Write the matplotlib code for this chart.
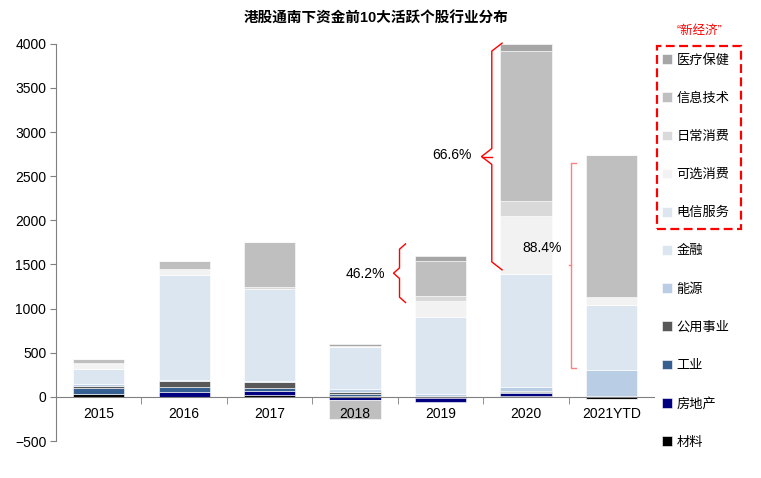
import matplotlib.pyplot as plt
import numpy as np
from matplotlib.patches import Rectangle

plt.rcParams['font.family'] = ['Liberation Sans', 'Noto Sans CJK SC', 'DejaVu Sans']

years = ['2015', '2016', '2017', '2018', '2019', '2020', '2021YTD']

# sector values, stacking order bottom -> top
sectors = ['材料', '房地产', '工业', '公用事业', '能源', '金融',
           '电信服务', '可选消费', '日常消费', '信息技术', '医疗保健']
materials = [30, 0, 20, 15, -10, 10, -20]
real_estate = [5, 50, 45, -30, -50, 35, -5]
industrials = [70, 57, 35, 20, 10, 12, 10]
utilities = [15, 68, 65, 20, 0, 5, 0]
energy = [25, 15, 20, 30, 20, 45, 295]
financials = [170, 1192, 1035, 476, 880, 1290, 733]
telecom = [0, 0, 0, 0, 0, 0, 0]
cons_disc = [60, 65, 0, 10, 181, 657, 97]
cons_staples = [12, 0, 23, 0, 53, 170, 0]
info_tech = [40, 94, 506, -220, 397, 1696, 1602]
health = [0, 0, 0, 30, 57, 80, 0]

series = [materials, real_estate, industrials, utilities, energy, financials,
          telecom, cons_disc, cons_staples, info_tech, health]
colors = ['#000000', '#000080', '#376092', '#595959', '#b9cde5', '#dce6f1',
          '#dde5ef', '#f2f2f2', '#d9d9d9', '#bfbfbf', '#a6a6a6']

# share labels
pct_labels = ['46.2%', '66.6%', '88.4%']

fig = plt.figure(figsize=(7.61, 4.78), dpi=100)
ax = fig.add_axes([0.0736, 0.0774, 0.786, 0.831])

x = np.arange(len(years))
pos_bottom = np.zeros(len(years))
neg_bottom = np.zeros(len(years))
handles = []
for name, vals, c in zip(sectors, series, colors):
    v = np.array(vals, dtype=float)
    bottom = np.where(v >= 0, pos_bottom, neg_bottom)
    b = ax.bar(x, v, 0.6, bottom=bottom, color=c, edgecolor='white',
               linewidth=0.4, label=name, zorder=1)
    handles.append(b)
    pos_bottom += np.where(v > 0, v, 0)
    neg_bottom += np.where(v < 0, v, 0)

ax.set_xlim(-0.5, 6.5)
ax.set_ylim(-500, 4000)
ax.set_yticks(np.arange(-500, 4001, 500))
ax.set_xticks(x)
ax.set_xticklabels(years)
ax.set_xticks(np.arange(0.5, 6.5, 1), minor=True)
ax.tick_params(axis='x', which='major', length=0, pad=7, labelsize=10)
ax.tick_params(axis='x', which='minor', length=5, direction='out', color='#808080')
ax.tick_params(axis='y', length=4, color='#808080', labelsize=10, pad=3)

ax.spines['top'].set_visible(False)
ax.spines['right'].set_visible(False)
ax.spines['bottom'].set_position(('data', 0))
ax.spines['bottom'].set_color('#808080')
ax.spines['left'].set_color('#808080')

fig.text(0.494, 0.962, '港股通南下资金前10大活跃个股行业分布', ha='center', va='center',
         fontsize=10.5, fontweight='bold')


def brace(xs, y0, y1, w, d, col):
    ym = (y0 + y1) / 2
    xx = [xs + w, xs, xs, xs - w, xs, xs, xs + w]
    yy = [y1, y1 - d, ym + d, ym, ym - d, y0 + d, y0]
    ax.plot(xx, yy, color=col, lw=1, clip_on=False, zorder=3)


brace(3.52, 1069, 1733, 0.07, 60, 'red')
brace(4.6, 1439, 4007, 0.12, 90, 'red')
ax.plot([4.48, 4.6], [2723, 2723], color='red', lw=1, zorder=3)
ax.plot([5.59, 5.53, 5.53, 5.59], [2647, 2647, 328, 328], color='#ff8080', lw=1,
        zorder=3)
ax.plot([5.5, 5.53], [1495, 1495], color='#ff8080', lw=1, zorder=3)

ax.text(3.12, 1397, pct_labels[0], ha='center', va='center', fontsize=10, zorder=4)
ax.text(4.13, 2742, pct_labels[1], ha='center', va='center', fontsize=10, zorder=4)
ax.text(5.19, 1688, pct_labels[2], ha='center', va='center', fontsize=10, zorder=4)

leg = fig.legend(handles[::-1], sectors[::-1], loc='upper left',
                 bbox_to_anchor=(662 / 761, 1 - 54 / 478), frameon=False,
                 fontsize=9.5, handlelength=0.75, handleheight=0.75,
                 handletextpad=0.35, labelspacing=1.95, borderpad=0,
                 borderaxespad=0)

fig.text(699 / 761, 1 - 31 / 478, '“新经济”', color='red', ha='center',
         va='center', fontsize=9)
fig.add_artist(Rectangle((657 / 761, 1 - 229 / 478), 84 / 761, 183 / 478,
                         transform=fig.transFigure, fill=False, edgecolor='red',
                         linestyle=(0, (4, 2)), linewidth=1.6))

fig.savefig('out.png', dpi=100)
